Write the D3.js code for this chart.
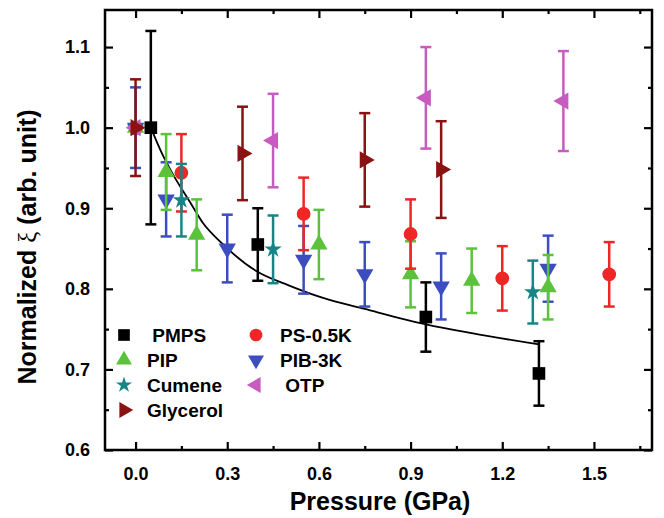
<!DOCTYPE html>
<html>
<head>
<meta charset="utf-8">
<script src="https://cdn.jsdelivr.net/npm/d3@7"></script>
<style>
  body { margin: 0; background: #fff; }
  svg { display: block; font-family: "Liberation Sans", Arial, sans-serif; font-weight: bold; }
</style>
</head>
<body>
<div id="chart"></div>
<script>
// [pressure (GPa), normalized xi, error]
const pmps = [[0.05, 1.0, 0.12], [0.4, 0.855, 0.045], [0.95, 0.765, 0.043], [1.32, 0.695, 0.04]]
const pip = [[0, 1.0, 0], [0.1, 0.945, 0.047], [0.2, 0.867, 0.044], [0.6, 0.855, 0.043], [0.9, 0.818, 0.041], [1.1, 0.81, 0.04], [1.35, 0.802, 0.04]]
const ps_05k = [[0, 1.0, 0], [0.15, 0.944, 0.048], [0.55, 0.893, 0.045], [0.9, 0.868, 0.043], [1.2, 0.813, 0.04], [1.55, 0.818, 0.04]]
const pib_3k = [[0, 1.0, 0.05], [0.1, 0.911, 0.046], [0.3, 0.85, 0.042], [0.55, 0.836, 0.042], [0.75, 0.818, 0.04], [1.0, 0.803, 0.041], [1.35, 0.825, 0.041]]
const cumene = [[0, 1.0, 0], [0.15, 0.91, 0.045], [0.45, 0.849, 0.042], [1.3, 0.796, 0.039]]
const glycerol = [[0, 1.0, 0.06], [0.35, 0.968, 0.058], [0.75, 0.96, 0.058], [1.0, 0.948, 0.06]]
const otp = [[0, 1.0, 0], [0.45, 0.984, 0.058], [0.95, 1.037, 0.063], [1.4, 1.033, 0.062]]

// fit line through PMPS
const fit_curve = [[0.05, 1.0], [0.084, 0.97], [0.121, 0.943], [0.176, 0.909], [0.22, 0.882], [0.284, 0.856], [0.395, 0.822], [0.503, 0.804], [0.611, 0.789], [0.75, 0.775], [0.95, 0.756], [1.1, 0.745], [1.32, 0.731]]

const x_ticks = [0, 0.3, 0.6, 0.9, 1.2, 1.5]
const x_minor = [0.15, 0.45, 0.75, 1.05, 1.35, 1.65]
const y_ticks = [0.6, 0.7, 0.8, 0.9, 1.0, 1.1]
const y_minor = [0.65, 0.75, 0.85, 0.95, 1.05]

const series = [
  { label: "PIB-3K", data: pib_3k, color: "#3b4dbf", shape: d3.symbolTriangle, rot: 180, size: 130 },
  { label: "PIP", data: pip, color: "#5cc23c", shape: d3.symbolTriangle, rot: 0, size: 130 },
  { label: "PS-0.5K", data: ps_05k, color: "#ee2626", shape: d3.symbolCircle, rot: 0, size: 150 },
  { label: "Cumene", data: cumene, color: "#178585", shape: d3.symbolStar, rot: 0, size: 95 },
  { label: "OTP", data: otp, color: "#c65cc0", shape: d3.symbolTriangle, rot: -90, size: 130 },
  { label: "Glycerol", data: glycerol, color: "#8a1212", shape: d3.symbolTriangle, rot: 90, size: 130 },
  { label: "PMPS", data: pmps, color: "#000000", shape: d3.symbolSquare, rot: 0, size: 160 }
]

const legend_rows = [
  ["PMPS", 0, 0, " PMPS"], ["PIP", 0, 1, "PIP"], ["Cumene", 0, 2, "Cumene"], ["Glycerol", 0, 3, "Glycerol"],
  ["PS-0.5K", 1, 0, "PS-0.5K"], ["PIB-3K", 1, 1, "PIB-3K"], ["OTP", 1, 2, " OTP"]
]

const width = 664, height = 518
const svg = d3.select("#chart").append("svg")
  .attr("width", width)
  .attr("height", height)

const x = d3.scaleLinear().domain([-0.1, 1.69]).range([105, 652])
const y = d3.scaleLinear().domain([0.6, 1.146]).range([450, 10])

// axes, ticks point inward on all four sides
const add_axis = (axis, tr, values, size, fmt) => {
  const g = svg.append("g")
    .attr("transform", tr)
    .call(axis.tickValues(values).tickSize(size).tickFormat(fmt))
  g.select(".domain").remove()
  g.selectAll(".tick line").attr("stroke", "#000").attr("stroke-width", 2.2)
  return g
}

const tick_font = g => g.selectAll(".tick text")
  .attr("font-size", 18)
  .attr("font-family", "Liberation Sans, Arial")
  .attr("font-weight", "bold")
  .attr("fill", "#000")

const bottom = add_axis(d3.axisBottom(x), `translate(0,${y.range()[0]})`, x_ticks, -8, d3.format(".1f"))
bottom.call(tick_font).selectAll(".tick text").attr("y", 17)
add_axis(d3.axisBottom(x), `translate(0,${y.range()[0]})`, x_minor, -4, "")
add_axis(d3.axisTop(x), `translate(0,${y.range()[1]})`, x_ticks, -8, "")
add_axis(d3.axisTop(x), `translate(0,${y.range()[1]})`, x_minor, -4, "")

const left = add_axis(d3.axisLeft(y), `translate(${x.range()[0]},0)`, y_ticks, -8, d3.format(".1f"))
left.call(tick_font).selectAll(".tick text").attr("x", -15)
add_axis(d3.axisLeft(y), `translate(${x.range()[0]},0)`, y_minor, -4, "")
add_axis(d3.axisRight(y), `translate(${x.range()[1]},0)`, y_ticks, -8, "")
add_axis(d3.axisRight(y), `translate(${x.range()[1]},0)`, y_minor, -4, "")

svg.append("rect")
  .attr("x", x.range()[0])
  .attr("y", y.range()[1])
  .attr("width", x.range()[1] - x.range()[0])
  .attr("height", y.range()[0] - y.range()[1])
  .attr("fill", "none")
  .attr("stroke", "#000")
  .attr("stroke-width", 2.5)

// axis titles
svg.append("text")
  .attr("x", 380)
  .attr("y", 510)
  .attr("text-anchor", "middle")
  .attr("font-size", 25)
  .text("Pressure (GPa)")

const y_title = svg.append("text")
  .attr("transform", "translate(36,247) rotate(-90)")
  .attr("text-anchor", "middle")
  .attr("font-size", 25)
y_title.append("tspan").text("Normalized ")
y_title.append("tspan").attr("font-family", "Liberation Serif, serif").attr("font-weight", "normal").text("ξ")
y_title.append("tspan").text(" (arb. unit)")

// fit curve
const line = d3.line()
  .x(d => x(d[0]))
  .y(d => y(d[1]))
  .curve(d3.curveMonotoneX)
svg.append("path")
  .attr("d", line(fit_curve))
  .attr("fill", "none")
  .attr("stroke", "#000")
  .attr("stroke-width", 1.8)

// error bars + markers
const cap = 5.5
series.forEach(s => {
  const g = svg.append("g").attr("stroke", s.color).attr("fill", s.color)
  const bars = s.data.filter(d => d[2] > 0)
  g.selectAll("line.bar").data(bars).enter().append("line")
    .attr("x1", d => x(d[0])).attr("x2", d => x(d[0]))
    .attr("y1", d => y(d[1] + d[2])).attr("y2", d => y(d[1] - d[2]))
    .attr("stroke-width", 2.5)
  g.selectAll("line.top").data(bars).enter().append("line")
    .attr("x1", d => x(d[0]) - cap).attr("x2", d => x(d[0]) + cap)
    .attr("y1", d => y(d[1] + d[2])).attr("y2", d => y(d[1] + d[2]))
    .attr("stroke-width", 2.5)
  g.selectAll("line.bottom").data(bars).enter().append("line")
    .attr("x1", d => x(d[0]) - cap).attr("x2", d => x(d[0]) + cap)
    .attr("y1", d => y(d[1] - d[2])).attr("y2", d => y(d[1] - d[2]))
    .attr("stroke-width", 2.5)
  g.selectAll("path").data(s.data).enter().append("path")
    .attr("d", d3.symbol().type(s.shape).size(s.size))
    .attr("stroke", "none")
    .attr("transform", d => `translate(${x(d[0])},${y(d[1])}) rotate(${s.rot})`)
})

// legend
const legend_x = [124, 256]
const legend_text_x = [147, 280]
const legend_y0 = 335, legend_dy = 25
legend_rows.forEach(r => {
  const s = series.find(v => v.label === r[0])
  const cy = legend_y0 + r[2] * legend_dy
  svg.append("path")
    .attr("d", d3.symbol().type(s.shape).size(s.size * 0.85))
    .attr("fill", s.color)
    .attr("transform", `translate(${legend_x[r[1]]},${cy}) rotate(${s.rot})`)
  svg.append("text")
    .attr("x", legend_text_x[r[1]])
    .attr("y", cy + 7)
    .attr("font-size", 19)
    .style("white-space", "pre")
    .text(r[3])
})
</script>
</body>
</html>
